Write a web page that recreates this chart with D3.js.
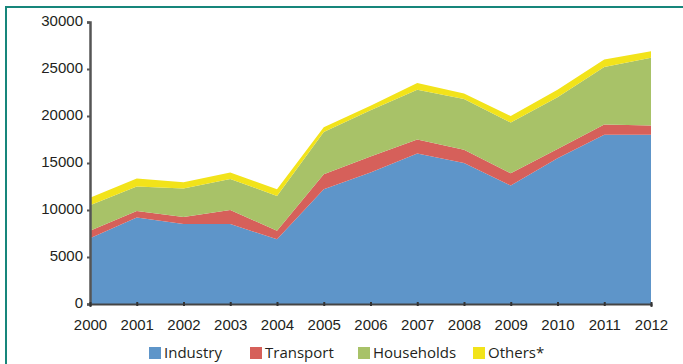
<!DOCTYPE html>
<html>
<head>
<meta charset="utf-8">
<script src="https://cdn.jsdelivr.net/npm/d3@7/dist/d3.min.js"></script>
<style>
  html, body { margin: 0; padding: 0; background: #fff; }
  svg { display: block; font-family: "Open Sans", "Noto Sans", sans-serif; }
</style>
</head>
<body>
<svg id="chart" width="683" height="364"></svg>
<script>
// Energy consumption by sector, 2000–2012 (stacked)
const years      = [2000, 2001, 2002, 2003, 2004, 2005, 2006, 2007, 2008, 2009, 2010, 2011, 2012];
const industry   = [7000, 9200, 8500, 8500, 6900, 12200, 14000, 16000, 15000, 12600, 15500, 18000, 18000];
const transport  = [800,  700,  750,  1500, 900,  1600,  1700,  1500,  1400,  1300,  1000,  1100,  1000];
const households = [2700, 2600, 3050, 3300, 3700, 4500,  4900,  5300,  5400,  5400,  5500,  6100,  7200];
const others     = [800,  850,  650,  700,  700,  500,   500,   700,   600,   700,   800,   800,   700];

const seriesNames  = ["Industry", "Transport", "Households", "Others*"];
const seriesColors = ["#5e95c9", "#d6605a", "#a8c268", "#f2e31a"];
const yTicks = [0, 5000, 10000, 15000, 20000, 25000, 30000];

const rows = years.map((yr, i) => ({
  year: yr,
  "Industry": industry[i],
  "Transport": transport[i],
  "Households": households[i],
  "Others*": others[i]
}));

const svg = d3.select("#chart");

// frame: teal rule along top and left
svg.append("line").attr("x1", 6).attr("x2", 683).attr("y1", 7).attr("y2", 7)
  .attr("stroke", "#17867b").attr("stroke-width", 2);
svg.append("line").attr("x1", 6).attr("x2", 6).attr("y1", 6).attr("y2", 364)
  .attr("stroke", "#17867b").attr("stroke-width", 2);

const x = d3.scaleLinear().domain([2000, 2012]).range([90, 651]);
const y = d3.scaleLinear().domain([0, 30000]).range([304, 22]);

const stack = d3.stack().keys(seriesNames);
const layers = stack(rows);

const area = d3.area()
  .x(d => x(d.data.year))
  .y0(d => y(d[0]))
  .y1(d => y(d[1]));

svg.append("g").selectAll("path")
  .data(layers)
  .join("path")
  .attr("d", area)
  .attr("fill", (d, i) => seriesColors[i]);

// y axis
const yAxis = d3.axisLeft(y).tickValues(yTicks).tickSize(3).tickPadding(4).tickFormat(d3.format("d"));
const gy = svg.append("g").attr("transform", "translate(90,0)").call(yAxis);
gy.select(".domain").attr("stroke", "#555").attr("stroke-width", 2.5);
gy.selectAll(".tick line").attr("stroke", "#555").attr("stroke-width", 2);
gy.selectAll(".tick text")
  .attr("fill", "#231f20").attr("font-size", 15)
  .attr("dy", "0.22em");

// x axis
const xAxis = d3.axisBottom(x).tickValues(years).tickSize(3).tickPadding(12).tickFormat(d3.format("d"));
const gx = svg.append("g").attr("transform", "translate(0,304)").call(xAxis);
gx.select(".domain").attr("stroke", "#444").attr("stroke-width", 2);
gx.selectAll(".tick line").attr("stroke", "#333").attr("stroke-width", 2)
  .attr("y1", -2).attr("y2", 2);
gx.selectAll(".tick text").attr("fill", "#231f20").attr("font-size", 15);

// legend
const legendX = [149, 250, 358, 473];
const legend = svg.append("g").selectAll("g")
  .data(seriesNames)
  .join("g")
  .attr("transform", (d, i) => `translate(${legendX[i]},347)`);
legend.append("rect").attr("width", 12).attr("height", 12)
  .attr("fill", (d, i) => seriesColors[i]);
legend.append("text").attr("x", 15).attr("y", 11)
  .attr("font-size", 15).attr("fill", "#231f20")
  .text(d => d);
</script>
</body>
</html>
